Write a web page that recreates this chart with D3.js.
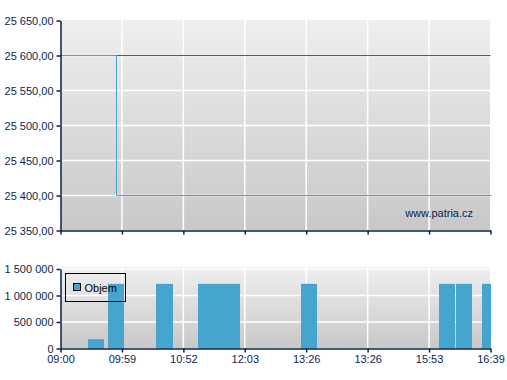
<!DOCTYPE html>
<html><head><meta charset="utf-8">
<script src="https://cdn.jsdelivr.net/npm/d3@7"></script>
<style>body{margin:0;background:#fff;}svg{display:block;font-family:"Liberation Sans",Arial,sans-serif;}</style>
</head><body>
<svg id="c" width="507" height="380"></svg>
<script>
// ---- data ----
const xTickLabels = ["09:00","09:59","10:52","12:03","13:26","13:26","15:53","16:39"];
const priceTicks = [25350,25400,25450,25500,25550,25600,25650];
const refPrice = 25600;               // red reference line
const priceX = [0, 0.902, 0.902, 7];  // positions in tick-slot units
const priceY = [25600, 25600, 25400, 25400];
const volTicks = [0, 500000, 1000000, 1500000];
const barStart = [0.441, 0.767, 1.550, 2.235, 3.916, 6.167, 6.445, 6.869];
const barEnd   = [0.702, 1.028, 1.827, 2.921, 4.177, 6.428, 6.706, 7.0];
const barVol   = [175000, 1220000, 1220000, 1220000, 1220000, 1220000, 1220000, 1220000];

const navy = "#0b1f4d", blue = "#45a5cf", red = "#cc2a2a";
const svg = d3.select("#c");
const fmtPrice = v => d3.format(",.2f")(v).replace(/,/g," ").replace(".",",");
const fmtVol = v => d3.format(",")(v).replace(/,/g," ");

const defs = svg.append("defs");
const g = defs.append("linearGradient").attr("id","bg").attr("x1",0).attr("y1",0).attr("x2",0).attr("y2",1);
g.append("stop").attr("offset","0%").attr("stop-color","#efefef");
g.append("stop").attr("offset","100%").attr("stop-color","#c8c8c8");

const x = d3.scaleLinear().domain([0, xTickLabels.length-1]).range([60.5, 490.5]);
const xt = d3.range(xTickLabels.length);

// ---- top price chart ----
const yP = d3.scaleLinear().domain([25350,25650]).range([230.5,20.5]);
svg.append("rect").attr("x",61).attr("y",20).attr("width",429).attr("height",210).attr("fill","url(#bg)");
svg.append("g").selectAll("line").data(priceTicks.slice(1,-1)).join("line")
  .attr("x1",61).attr("x2",490).attr("y1",d=>yP(d)).attr("y2",d=>yP(d))
  .attr("stroke","#fff").attr("stroke-width",1.5);
svg.append("g").selectAll("line").data(xt.slice(1,-1)).join("line")
  .attr("x1",d=>x(d)).attr("x2",d=>x(d)).attr("y1",20).attr("y2",230)
  .attr("stroke","#fff").attr("stroke-width",1.5);
svg.append("line").attr("x1",x(0)).attr("x2",x(7)).attr("y1",yP(refPrice)).attr("y2",yP(refPrice))
  .attr("stroke",red).attr("stroke-width",1);
const line = d3.line().x(d=>Math.round(x(d[0]))+0.5).y(d=>yP(d[1]));
svg.append("path").datum(priceX.map((v,i)=>[v,priceY[i]])).attr("d",line)
  .attr("fill","none").attr("stroke",blue).attr("stroke-width",1);
svg.append("text").attr("x",473).attr("y",217).attr("text-anchor","end")
  .attr("font-size",11).attr("fill",navy).text("www.patria.cz");

const axP = svg.append("g").attr("transform","translate(60.5,0)")
  .call(d3.axisLeft(yP).tickValues(priceTicks).tickFormat(fmtPrice).tickSize(4).tickSizeOuter(0));
const axPx = svg.append("g").attr("transform","translate(0,230.5)")
  .call(d3.axisBottom(x).tickValues(xt).tickFormat("").tickSize(4).tickSizeOuter(0));

// ---- bottom volume chart ----
const yV = d3.scaleLinear().domain([0,1500000]).range([348.5,269]);
svg.append("rect").attr("x",61).attr("y",267).attr("width",429).attr("height",81).attr("fill","url(#bg)");
svg.append("g").selectAll("line").data(volTicks.slice(1)).join("line")
  .attr("x1",61).attr("x2",490).attr("y1",d=>yV(d)).attr("y2",d=>yV(d))
  .attr("stroke","#fff").attr("stroke-width",1.5);
svg.append("g").selectAll("line").data(xt.slice(1,-1)).join("line")
  .attr("x1",d=>x(d)).attr("x2",d=>x(d)).attr("y1",267).attr("y2",348)
  .attr("stroke","#fff").attr("stroke-width",1.5);
svg.append("g").selectAll("rect").data(barVol).join("rect")
  .attr("x",(d,i)=>Math.round(x(barStart[i])))
  .attr("width",(d,i)=>Math.round(x(barEnd[i]))-Math.round(x(barStart[i])))
  .attr("y",d=>yV(d)).attr("height",d=>yV(0)-yV(d)).attr("fill",blue);

const axV = svg.append("g").attr("transform","translate(60.5,0)")
  .call(d3.axisLeft(yV).tickValues(volTicks).tickFormat(fmtVol).tickSize(4).tickSizeOuter(0));
const axVx = svg.append("g").attr("transform","translate(0,348.5)")
  .call(d3.axisBottom(x).tickValues(xt).tickFormat((d,i)=>xTickLabels[i]).tickSize(4).tickSizeOuter(0));

[axP,axPx,axV,axVx].forEach(a=>{
  a.select(".domain").attr("stroke",navy).attr("stroke-width",1.5);
  a.selectAll(".tick line").attr("stroke",navy).attr("stroke-width",1.5);
  a.selectAll("text").attr("fill",navy).attr("font-size",11).attr("font-family","Liberation Sans, Arial, sans-serif");
});
axP.selectAll("text").attr("x",-7);
axV.selectAll("text").attr("x",-7);
axVx.selectAll("text").attr("y",7);

// legend
const lg = svg.append("g");
lg.append("rect").attr("x",65.5).attr("y",273.5).attr("width",60).attr("height",28)
  .attr("fill","none").attr("stroke","#000").attr("stroke-width",1);
lg.append("rect").attr("x",73.5).attr("y",283.5).attr("width",7).attr("height",7)
  .attr("fill",blue).attr("stroke","#000").attr("stroke-width",1);
lg.append("text").attr("x",84.5).attr("y",292).attr("font-size",11).attr("fill","#000").text("Objem");
</script>
</body></html>
